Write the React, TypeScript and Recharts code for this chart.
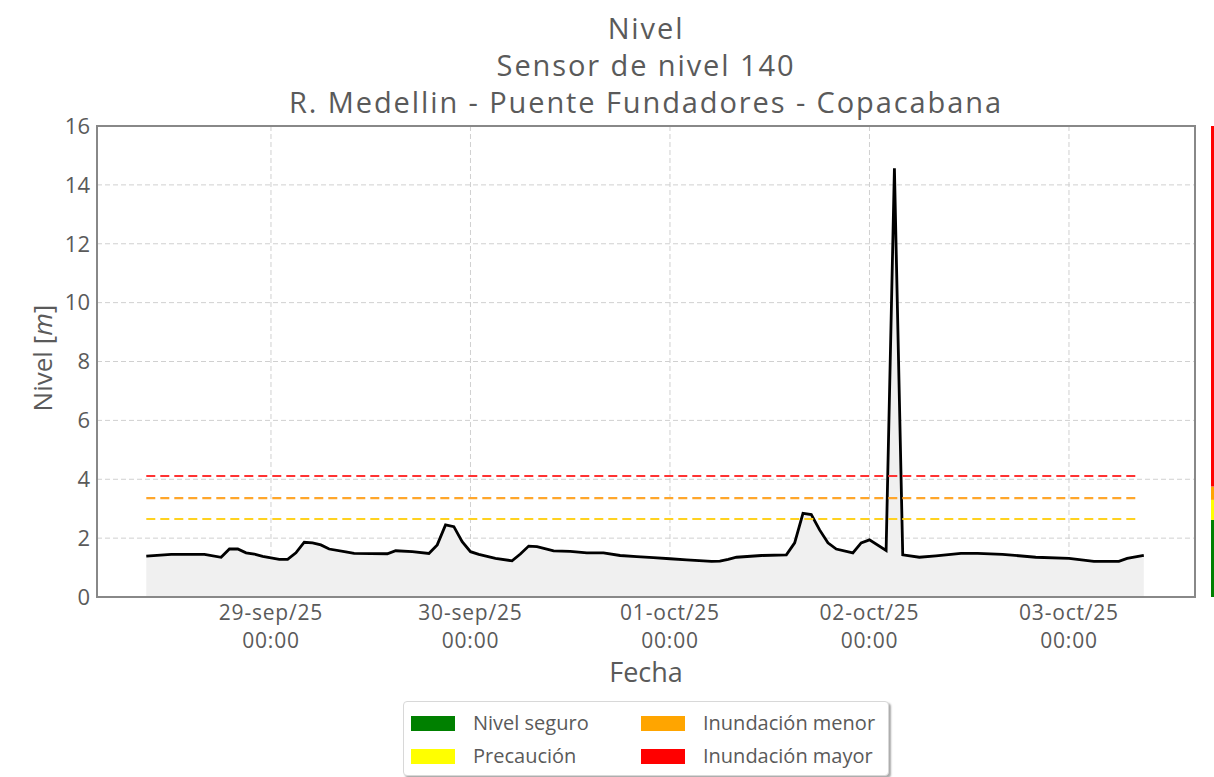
import { Area, Bar, BarChart, CartesianGrid, ComposedChart, ReferenceArea, ReferenceLine, XAxis, YAxis } from 'recharts'

// hours after 29-sep/25 00:00
const hours = [
	-15, -12, -8, -6, -5, -4, -3, -2, -1, 1, 2, 3, 4, 5, 6, 7, 9, 10, 14, 15, 17, 19, 20, 21, 22, 23, 24, 25, 27, 29,
	30, 31, 32, 34, 36, 38, 40, 42, 44, 46, 48, 50, 53, 54, 55, 56, 59, 62, 63, 64, 65, 66, 67, 68, 70, 71, 72, 74,
	75, 76, 78, 80, 83, 85, 88, 92, 96, 99, 102, 103, 105,
]
const levels = [
	1.39, 1.45, 1.45, 1.35, 1.63, 1.63, 1.5, 1.46, 1.38, 1.28, 1.28, 1.5, 1.86, 1.84, 1.77, 1.63, 1.53, 1.48, 1.47,
	1.57, 1.54, 1.48, 1.77, 2.45, 2.39, 1.88, 1.54, 1.45, 1.31, 1.23, 1.46, 1.73, 1.71, 1.57, 1.55, 1.5, 1.5, 1.41,
	1.37, 1.34, 1.3, 1.26, 1.21, 1.22, 1.28, 1.35, 1.41, 1.43, 1.84, 2.84, 2.8, 2.28, 1.84, 1.63, 1.5, 1.84, 1.94,
	1.58, 14.56, 1.43, 1.35, 1.4, 1.48, 1.48, 1.45, 1.35, 1.31, 1.21, 1.21, 1.31, 1.41,
]

const tickHours = [0, 24, 48, 72, 96]
const tickDates = ['29-sep/25', '30-sep/25', '01-oct/25', '02-oct/25', '03-oct/25']
const tickTimes = ['00:00', '00:00', '00:00', '00:00', '00:00']
const yTicks = [0, 2, 4, 6, 8, 10, 12, 14, 16]

const thresholdNames = ['Precaución', 'Inundación menor', 'Inundación mayor']
const thresholdValues = [2.65, 3.36, 4.11]
const thresholdColors = ['#ffd21f', '#ffa62b', '#ff3333']

const levelNames = ['Nivel seguro', 'Precaución', 'Inundación menor', 'Inundación mayor']
const levelColors = ['#008000', '#ffff00', '#ffa500', '#ff0000']
const levelBands = [2.62, 0.68, 0.45, 12.25]

const xDomain: [number, number] = [-20.93, 111.16]
const FONT = '"Open Sans", Lato, sans-serif'
const TEXT = '#5a5a5a'

const data = hours.map((h, i) => ({ hour: h, level: levels[i] }))
const bandRow = [Object.fromEntries(levelBands.map((v, i) => [`b${i}`, v]))]

function DateTick({ x, y, payload }: any) {
	const i = tickHours.indexOf(payload.value)
	return (
		<text x={x} y={y} textAnchor='middle' fill={TEXT} fontSize={21} letterSpacing={0.8} fontFamily={FONT}>
			<tspan x={x} dy={23}>{tickDates[i]}</tspan>
			<tspan x={x} dy={28}>{tickTimes[i]}</tspan>
		</text>
	)
}

function Legend() {
	const cols = [
		[0, 1],
		[2, 3],
	]
	return (
		<div
			style={{
				position: 'absolute',
				left: 403,
				top: 701,
				width: 484,
				height: 73,
				border: '1px solid #d8d8d8',
				borderRadius: 4,
				boxShadow: '2px 2px 2px #aaa',
				background: '#fff',
				fontFamily: FONT,
				fontSize: 20,
				color: TEXT,
			}}
		>
			{cols.map((col, c) =>
				col.map((idx, r) => (
					<div
						key={idx}
						style={{
							position: 'absolute',
							left: c === 0 ? 7 : 237,
							top: 9 + r * 33,
							display: 'flex',
							alignItems: 'center',
							whiteSpace: 'nowrap',
						}}
					>
						<span style={{ display: 'inline-block', width: 44, height: 15, background: levelColors[idx], marginRight: 18 }} />
						<span style={{ lineHeight: '24px' }}>{levelNames[idx]}</span>
					</div>
				)),
			)}
		</div>
	)
}

export default function App() {
	return (
		<div style={{ position: 'absolute', left: 0, top: 0, width: 1214, height: 777, overflow: 'hidden', background: '#fff' }}>
			<div
				style={{
					position: 'absolute',
					left: 0,
					width: 1292,
					top: 9,
					textAlign: 'center',
					fontFamily: FONT,
					fontSize: 29,
					letterSpacing: 1.9,
					lineHeight: '37px',
					color: TEXT,
				}}
			>
				<div>Nivel</div>
				<div>Sensor de nivel 140</div>
				<div>R. Medellin - Puente Fundadores - Copacabana</div>
			</div>
			<div style={{ position: 'absolute', left: 0, top: 0 }}>
				<ComposedChart width={1214} height={777} data={data} margin={{ top: 126, right: 19, bottom: 100, left: 37 }}>
					<CartesianGrid stroke='#d0d0d0' strokeDasharray='5 3' verticalValues={tickHours} horizontalValues={yTicks} />
					<XAxis
						dataKey='hour'
						type='number'
						domain={xDomain}
						allowDataOverflow
						ticks={tickHours}
						tick={<DateTick />}
						tickLine={false}
						tickSize={0}
						tickMargin={0}
						axisLine={false}
						height={80}
					/>
					<YAxis
						type='number'
						domain={[0, 16]}
						ticks={yTicks}
						tickLine={false}
						tickSize={0}
						tickMargin={7}
						axisLine={false}
						width={60}
						tick={{ fill: TEXT, fontSize: 22, fontFamily: FONT }}
						label={{
							content: () => (
								<text
									x={42}
									y={358}
									transform='rotate(-90 42 358)'
									textAnchor='middle'
									dominantBaseline='central'
									fill={TEXT}
									fontSize={26}
									fontFamily={FONT}
								>
									Nivel [<tspan fontStyle='italic'>m</tspan>]
								</text>
							),
						}}
					/>
					<Area
						dataKey='level'
						type='linear'
						baseValue={0}
						stroke='#000'
						strokeWidth={2.8}
						fill='#f0f0f0'
						fillOpacity={1}
						isAnimationActive={false}
						dot={false}
						activeDot={false}
					/>
					{thresholdValues.map((v, i) => (
						<ReferenceLine
							key={thresholdNames[i]}
							segment={[
								{ x: hours[0], y: v },
								{ x: 104.5, y: v },
							]}
							stroke={thresholdColors[i]}
							strokeWidth={2.2}
							strokeDasharray='9 5'
						/>
					))}
					<ReferenceArea x1={xDomain[0]} x2={xDomain[1]} y1={0} y2={16} fill='none' stroke='#888' strokeWidth={2} />
				</ComposedChart>
			</div>
			<div
				style={{
					position: 'absolute',
					left: 0,
					width: 1292,
					top: 655,
					textAlign: 'center',
					fontFamily: FONT,
					fontSize: 27,
					lineHeight: '34px',
					color: TEXT,
				}}
			>
				Fecha
			</div>
			<div style={{ position: 'absolute', left: 1211, top: 0 }}>
				<BarChart width={6} height={777} data={bandRow} margin={{ top: 126, right: 0, bottom: 180, left: 0 }} barCategoryGap={0}>
					<XAxis hide type='category' />
					<YAxis hide type='number' domain={[0, 16]} />
					{levelBands.map((_, i) => (
						<Bar key={levelNames[i]} dataKey={`b${i}`} stackId='s' fill={levelColors[i]} isAnimationActive={false} />
					))}
				</BarChart>
			</div>
			<Legend />
		</div>
	)
}
